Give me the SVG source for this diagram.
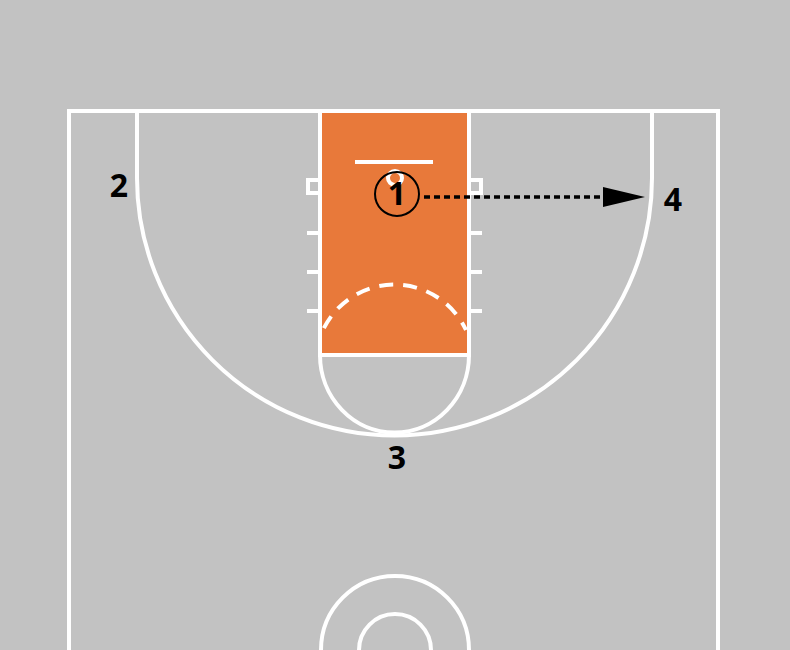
<svg xmlns="http://www.w3.org/2000/svg" width="790" height="650" viewBox="0 0 790 650">
<defs>
<style>
.ln{fill:none;stroke:#fff;stroke-width:4}
.lbl{font-family:"Open Sans","Liberation Sans",sans-serif;font-weight:bold;font-size:32px;fill:#000;text-anchor:middle}
</style>
</defs>
<rect width="790" height="650" fill="#c2c2c2"/>
<g id="court">
<rect x="320" y="112" width="149" height="243" fill="#e8793a"/>
<path class="ln" d="M69,660 V111 H718 V660"/>
<path class="ln" d="M320,111 V355 H469 V111"/>
<path class="ln" d="M137,111 V178 A257.5,257.5 0 0 0 652,178 V111"/>
<path class="ln" d="M320,355 A74.5,77.5 0 0 0 469,355"/>
<path class="ln" d="M355,162 H433"/>
<circle class="ln" cx="395" cy="178" r="7"/>
<path class="ln" d="M320,180 H308 V193 H320 M469,180 H481 V193 H469"/>
<path class="ln" d="M307,233 H320 M307,272 H320 M307,311 H320 M469,233 H482 M469,272 H482 M469,311 H482"/>
<path class="ln" d="M323,330 A79,79 0 0 1 466,330" stroke-dasharray="14 10" stroke-dashoffset="-2"/>
<circle class="ln" cx="395" cy="650" r="74"/>
<circle class="ln" cx="395" cy="650" r="36"/>
</g>
<g id="connectors">
<path d="M424,197 H603" stroke="#000" stroke-width="3.5" stroke-dasharray="6 4" fill="none"/>
<path d="M603,187 L645,197 L603,207 Z" fill="#000"/>
</g>
<g id="p1">
<circle cx="397" cy="194" r="22" fill="none" stroke="#000" stroke-width="2"/>
<text class="lbl" x="397" y="205">1</text>
</g>
<g id="p2"><text class="lbl" x="119" y="197">2</text></g>
<g id="p3"><text class="lbl" x="397" y="469">3</text></g>
<g id="p4"><text class="lbl" x="673" y="211">4</text></g>
</svg>
